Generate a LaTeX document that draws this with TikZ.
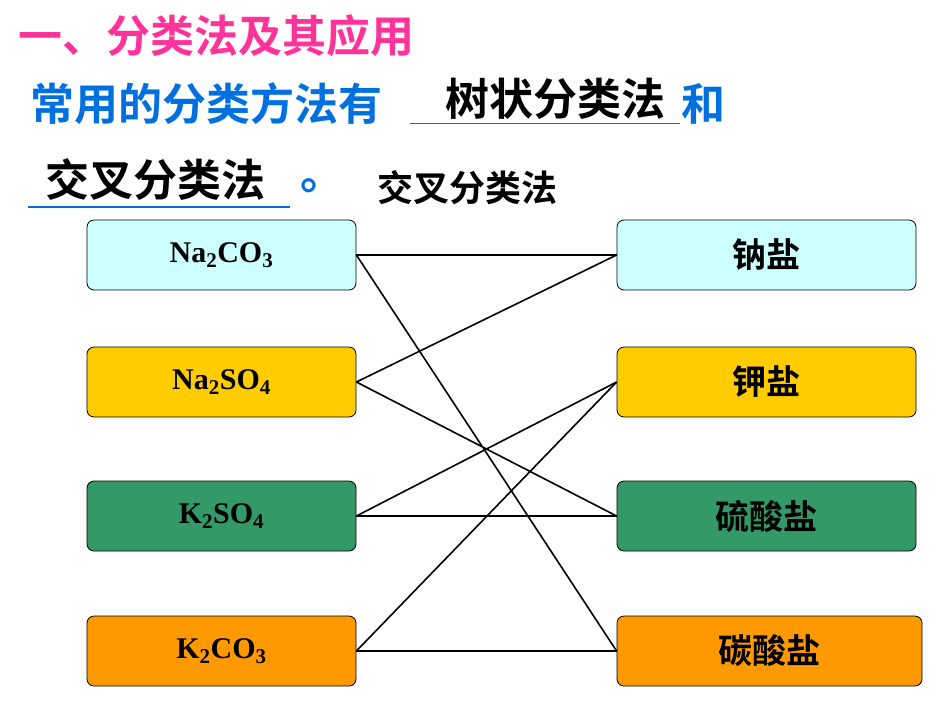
\documentclass[tikz,border=0pt]{standalone}
\usepackage{fontspec}
\setmainfont{Liberation Serif}
\newfontfamily\cjk{Noto Sans CJK SC}[BoldFont={Noto Sans CJK SC Bold}]
\definecolor{tpink}{HTML}{FF3399}
\definecolor{tblue}{HTML}{0070E0}
\definecolor{ccyan}{HTML}{CCFFFF}
\definecolor{cyel}{HTML}{FFCC00}
\definecolor{cgreen}{HTML}{339966}
\definecolor{corange}{HTML}{FF9900}
\tikzset{
 box/.style={draw=black, line width=0.8pt, rounded corners=7pt, minimum height=70pt, inner sep=0pt},
 lbox/.style={box, minimum width=269pt, font=\bfseries\fontsize{30}{32}\selectfont},
 rbox/.style={box, minimum width=299pt, font=\cjk\bfseries\fontsize{34}{36}\selectfont},
 link/.style={line width=1.6pt},
 bigt/.style={anchor=west, inner sep=0pt, font=\cjk\bfseries\fontsize{44}{46}\selectfont}
}
\begin{document}
\begin{tikzpicture}[x=1pt,y=-1pt]
\useasboundingbox (0,0) rectangle (950,713);
\node[bigt, text=tpink] (title) at (18,36) {一、分类法及其应用};
\node[bigt, text=tblue] (l2) at (30,104) {常用的分类方法有};
\node[bigt] (a1) at (445,99) {树状分类法};
\node[bigt, text=tblue] (he) at (681,104) {和};
\draw[tblue, line width=1pt] (410,123) -- (680,123);
\node[bigt] (a2) at (45,180) {交叉分类法};
\draw[tblue, line width=2pt] (28,207) -- (290,207);
\node[bigt, text=tblue] (dot) at (300,186) {。};
\node[anchor=west, inner sep=0pt, font=\cjk\bfseries\fontsize{36}{38}\selectfont] (sub) at (377,188) {交叉分类法};

\node[lbox, fill=ccyan] (L1) at (221.5,255) {Na\textsubscript{2}CO\textsubscript{3}};
\node[lbox, fill=cyel] (L2) at (221.5,382) {Na\textsubscript{2}SO\textsubscript{4}};
\node[lbox, fill=cgreen] (L3) at (221.5,516) {K\textsubscript{2}SO\textsubscript{4}};
\node[lbox, fill=corange] (L4) at (221.5,651) {K\textsubscript{2}CO\textsubscript{3}};
\node[rbox, fill=ccyan] (R1) at (766.5,255) {钠盐};
\node[rbox, fill=cyel] (R2) at (766.5,382) {钾盐};
\node[rbox, fill=cgreen] (R3) at (766.5,516) {硫酸盐};
\node[rbox, fill=corange, minimum width=305pt] (R4) at (769.5,651) {碳酸盐};

\draw[link] (L1.east) -- (R1.west);
\draw[link] (L1.east) -- (R4.west);
\draw[link] (L2.east) -- (R1.west);
\draw[link] (L2.east) -- (R3.west);
\draw[link] (L3.east) -- (R2.west);
\draw[link] (L3.east) -- (R3.west);
\draw[link] (L4.east) -- (R2.west);
\draw[link] (L4.east) -- (R4.west);
\end{tikzpicture}
\end{document}
